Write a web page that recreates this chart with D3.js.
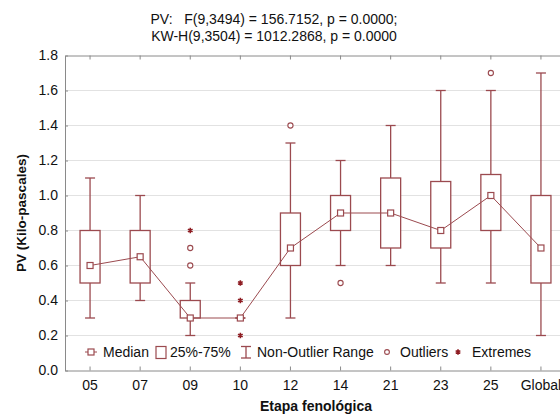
<!DOCTYPE html>
<html>
<head>
<meta charset="utf-8">
<script src="https://cdn.jsdelivr.net/npm/d3@7"></script>
<style>
  body { margin: 0; background: #fff; }
  svg { display: block; font-family: "Liberation Sans", Arial, sans-serif; }
</style>
</head>
<body>
<svg></svg>
<script>
// box plot data per phenological stage
const stages = ['05', '07', '09', '10', '12', '14', '21', '23', '25', 'Global'];
const whiskerLow = [0.3, 0.4, 0.2, 0.3, 0.3, 0.6, 0.6, 0.5, 0.5, 0.2];
const q1 = [0.5, 0.5, 0.3, 0.3, 0.6, 0.8, 0.7, 0.7, 0.8, 0.5];
const medians = [0.6, 0.65, 0.3, 0.3, 0.7, 0.9, 0.9, 0.8, 1.0, 0.7];
const q3 = [0.8, 0.8, 0.4, 0.3, 0.9, 1.0, 1.1, 1.08, 1.12, 1.0];
const whiskerHigh = [1.1, 1.0, 0.5, 0.3, 1.3, 1.2, 1.4, 1.6, 1.6, 1.7];
const outlierStages = ['09', '09', '12', '14', '25'];
const outlierValues = [0.6, 0.7, 1.4, 0.5, 1.7];
const extremeStages = ['09', '10', '10', '10'];
const extremeValues = [0.8, 0.2, 0.4, 0.5];
const yTicks = [0, 0.2, 0.4, 0.6, 0.8, 1.0, 1.2, 1.4, 1.6, 1.8];
const titleLines = ['PV:   F(9,3494) = 156.7152, p = 0.0000;', 'KW-H(9,3504) = 1012.2868, p = 0.0000'];
const legendLabels = ['Median', '25%-75%', 'Non-Outlier Range', 'Outliers', 'Extremes'];

const width = 560;
const height = 420;
const plotLeft = 65, plotRight = 566, plotTop = 55.5, plotBottom = 370.5;
const boxColor = '#9b4a4f';
const extremeColor = '#8e1c22';
const fontSize = 14;

const svg = d3.select('svg').attr('width', width).attr('height', height);

const xScale = d3.scaleBand().domain(stages).range([plotLeft, plotRight]);
const yScale = d3.scaleLinear().domain([0, 1.8]).range([plotBottom, plotTop]);
const cx = s => xScale(s) + xScale.bandwidth() / 2;

const rows = stages.map((s, i) => ({
    stage: s, lo: whiskerLow[i], q1: q1[i], med: medians[i], q3: q3[i], hi: whiskerHigh[i]
}));

// grid
svg.append('g')
    .selectAll('line')
    .data(yTicks.filter(t => t > 0 && t < 1.8))
    .enter()
    .append('line')
    .attr('x1', plotLeft).attr('x2', plotRight)
    .attr('y1', d => yScale(d)).attr('y2', d => yScale(d))
    .attr('stroke', '#e2e2e2')
    .attr('stroke-width', 1);

// axes
const styleAxis = g => {
    g.select('.domain').attr('stroke', '#8a8a8a');
    g.selectAll('.tick line').attr('stroke', '#8a8a8a');
    g.selectAll('.tick text').attr('fill', '#111').style('font-size', fontSize + 'px');
};

svg.append('g')
    .attr('transform', `translate(${plotLeft},0)`)
    .call(d3.axisLeft(yScale).tickValues(yTicks).tickFormat(d3.format('.1f')).tickSize(-3).tickSizeOuter(0).tickPadding(7))
    .call(styleAxis);

svg.append('g')
    .attr('transform', `translate(0,${plotBottom})`)
    .call(d3.axisBottom(xScale).tickSize(-4).tickSizeOuter(0).tickPadding(10))
    .call(styleAxis);

svg.append('g')
    .attr('transform', `translate(0,${plotTop})`)
    .call(d3.axisTop(xScale).tickSize(-4).tickSizeOuter(0).tickFormat(''))
    .call(styleAxis);

// whiskers
const boxes = svg.append('g');
const boxW = 20, capW = 10;

boxes.selectAll('.whisker')
    .data(rows)
    .enter()
    .append('line')
    .attr('x1', d => cx(d.stage)).attr('x2', d => cx(d.stage))
    .attr('y1', d => yScale(d.lo)).attr('y2', d => yScale(d.hi))
    .attr('stroke', boxColor).attr('stroke-width', 1.3);

['lo', 'hi'].forEach(k => {
    boxes.selectAll('.cap-' + k)
        .data(rows)
        .enter()
        .append('line')
        .attr('x1', d => cx(d.stage) - capW / 2).attr('x2', d => cx(d.stage) + capW / 2)
        .attr('y1', d => yScale(d[k])).attr('y2', d => yScale(d[k]))
        .attr('stroke', boxColor).attr('stroke-width', 1.3);
});

boxes.selectAll('rect')
    .data(rows)
    .enter()
    .append('rect')
    .attr('x', d => cx(d.stage) - boxW / 2)
    .attr('width', boxW)
    .attr('y', d => yScale(d.q3))
    .attr('height', d => yScale(d.q1) - yScale(d.q3))
    .attr('fill', '#fff')
    .attr('stroke', boxColor).attr('stroke-width', 1.3);

// median line + markers
svg.append('path')
    .datum(rows)
    .attr('d', d3.line().x(d => cx(d.stage)).y(d => yScale(d.med)))
    .attr('fill', 'none')
    .attr('stroke', boxColor).attr('stroke-width', 1);

svg.append('g')
    .selectAll('rect')
    .data(rows)
    .enter()
    .append('rect')
    .attr('x', d => cx(d.stage) - 3)
    .attr('y', d => yScale(d.med) - 3)
    .attr('width', 6).attr('height', 6)
    .attr('fill', '#fff')
    .attr('stroke', boxColor).attr('stroke-width', 1.2);

// outliers
svg.append('g')
    .selectAll('circle')
    .data(outlierValues.map((v, i) => ({ stage: outlierStages[i], v })))
    .enter()
    .append('circle')
    .attr('cx', d => cx(d.stage))
    .attr('cy', d => yScale(d.v))
    .attr('r', 2.6)
    .attr('fill', '#fff')
    .attr('stroke', boxColor).attr('stroke-width', 1.1);

// extremes
const star = d3.symbol().type(d3.symbolAsterisk).size(20);
svg.append('g')
    .selectAll('path')
    .data(extremeValues.map((v, i) => ({ stage: extremeStages[i], v })))
    .enter()
    .append('path')
    .attr('d', star)
    .attr('transform', d => `translate(${cx(d.stage)},${yScale(d.v)})`)
    .attr('fill', 'none')
    .attr('stroke', extremeColor).attr('stroke-width', 1.6);

// legend (marker / text x positions)
const legendMarkerX = [85, 155, 241, 384, 455];
const legendTextX = [103, 170, 257, 400, 472];
const legendY = 352;
const legend = svg.append('g').attr('transform', `translate(0,${legendY})`);
const drawMarker = (i, g) => {
    if (i === 0) {
        g.append('line').attr('x1', 0).attr('x2', 12).attr('stroke', boxColor);
        g.append('rect').attr('x', 3).attr('y', -3).attr('width', 6).attr('height', 6)
            .attr('fill', '#fff').attr('stroke', boxColor).attr('stroke-width', 1.2);
    } else if (i === 1) {
        g.append('rect').attr('x', 1).attr('y', -5.5).attr('width', 10).attr('height', 12)
            .attr('fill', '#fff').attr('stroke', boxColor).attr('stroke-width', 1.2);
    } else if (i === 2) {
        g.append('line').attr('x1', 5).attr('x2', 5).attr('y1', -5.5).attr('y2', 6).attr('stroke', boxColor).attr('stroke-width', 1.3);
        g.append('line').attr('x1', 0).attr('x2', 10).attr('y1', -5.5).attr('y2', -5.5).attr('stroke', boxColor).attr('stroke-width', 1.3);
        g.append('line').attr('x1', 0).attr('x2', 10).attr('y1', 6).attr('y2', 6).attr('stroke', boxColor).attr('stroke-width', 1.3);
    } else if (i === 3) {
        g.append('circle').attr('cx', 3).attr('r', 2.4).attr('fill', '#fff').attr('stroke', boxColor).attr('stroke-width', 1.1);
    } else {
        g.append('path').attr('d', star).attr('transform', 'translate(3,0)')
            .attr('fill', 'none').attr('stroke', extremeColor).attr('stroke-width', 1.6);
    }
};
legendLabels.forEach((label, i) => {
    drawMarker(i, legend.append('g').attr('transform', `translate(${legendMarkerX[i]},0)`));
    legend.append('text')
        .attr('x', legendTextX[i])
        .attr('y', 5)
        .attr('fill', '#111')
        .style('font-size', fontSize + 'px')
        .text(label);
});

// titles
svg.append('g')
    .selectAll('text')
    .data(titleLines)
    .enter()
    .append('text')
    .attr('x', 274)
    .attr('y', (d, i) => 24 + i * 17)
    .attr('text-anchor', 'middle')
    .attr('fill', '#111')
    .style('font-size', fontSize + 'px')
    .style('white-space', 'pre')
    .text(d => d);

svg.append('text')
    .attr('transform', `translate(26,${(plotTop + plotBottom) / 2}) rotate(-90)`)
    .attr('text-anchor', 'middle')
    .attr('fill', '#111')
    .style('font-size', '13.5px')
    .style('font-weight', 'bold')
    .text('PV (Kilo-pascales)');

svg.append('text')
    .attr('x', 316)
    .attr('y', 411)
    .attr('text-anchor', 'middle')
    .attr('fill', '#111')
    .style('font-size', '14px')
    .style('font-weight', 'bold')
    .text('Etapa fenológica');
</script>
</body>
</html>
